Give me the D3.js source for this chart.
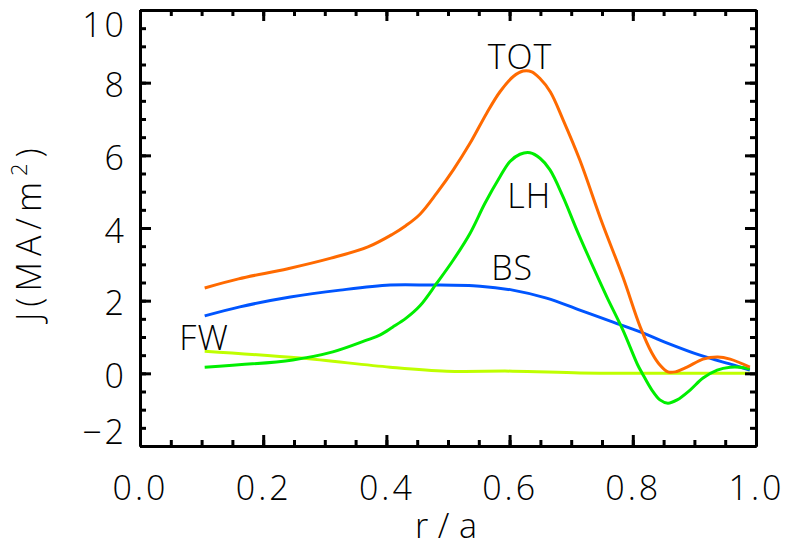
<!DOCTYPE html>
<html>
<head>
<meta charset="utf-8">
<script src="https://cdn.jsdelivr.net/npm/d3@7"></script>
<style>
  body { margin: 0; background: #fff; }
  svg { display: block; }
  .lbl { font-family: "DejaVu Sans ExtraLight", "Open Sans", sans-serif; font-weight: 300; fill: #000; }
  .axis text { font-family: "DejaVu Sans ExtraLight", "Open Sans", sans-serif; font-weight: 300; font-size: 34px; fill: #000; }
  .axis path, .axis line { stroke: #000; stroke-width: 3; }
</style>
</head>
<body>
<svg id="chart"></svg>
<script>
// r/a positions and current densities
const totR = [0.105, 0.16, 0.24, 0.31, 0.37, 0.41, 0.432, 0.4545, 0.4817, 0.5086, 0.5357, 0.5628, 0.5844, 0.606, 0.622, 0.636, 0.649, 0.666, 0.687, 0.714, 0.75, 0.784, 0.812, 0.831, 0.844, 0.857, 0.869, 0.888, 0.914, 0.938, 0.958, 0.99]
const totJ = [2.35, 2.6, 2.88, 3.17, 3.48, 3.83, 4.07, 4.38, 4.96, 5.6, 6.33, 7.16, 7.75, 8.17, 8.32, 8.3, 8.12, 7.75, 6.97, 5.87, 4.15, 2.65, 1.28, 0.56, 0.23, 0.04, 0.04, 0.17, 0.39, 0.45, 0.39, 0.17]

const lhR = [0.105, 0.248, 0.313, 0.369, 0.39, 0.41, 0.432, 0.4545, 0.4817, 0.5086, 0.5357, 0.56, 0.5844, 0.6006, 0.6169, 0.6331, 0.6494, 0.6656, 0.687, 0.709, 0.735, 0.758, 0.784, 0.808, 0.815, 0.831, 0.844, 0.857, 0.872, 0.893, 0.914, 0.937, 0.958, 0.974, 0.99]
const lhJ = [0.17, 0.37, 0.59, 0.92, 1.06, 1.27, 1.52, 1.86, 2.48, 3.12, 3.85, 4.68, 5.41, 5.83, 6.03, 6.07, 5.92, 5.6, 4.85, 3.95, 2.95, 2.1, 1.19, 0.23, 0.01, -0.46, -0.73, -0.82, -0.73, -0.46, -0.13, 0.09, 0.17, 0.17, 0.12]

const bsR = [0.105, 0.162, 0.244, 0.325, 0.406, 0.47, 0.552, 0.605, 0.66, 0.714, 0.768, 0.812, 0.855, 0.909, 0.963, 0.99]
const bsJ = [1.58, 1.83, 2.1, 2.29, 2.43, 2.43, 2.4, 2.29, 2.07, 1.74, 1.41, 1.14, 0.84, 0.5, 0.23, 0.09]

const fwR = [0.105, 0.26, 0.406, 0.498, 0.605, 0.714, 0.812, 0.99]
const fwJ = [0.61, 0.42, 0.17, 0.06, 0.06, 0.01, 0.0, 0.0]

const xTicks = [0.0, 0.2, 0.4, 0.6, 0.8, 1.0]
const yTicks = [-2, 0, 2, 4, 6, 8, 10]

const series = [
    { name: "FW", r: fwR, j: fwJ, color: "#bfff00", lx: 0.104, ly: 0.64 },
    { name: "BS", r: bsR, j: bsJ, color: "#0055ff", lx: 0.604, ly: 2.57 },
    { name: "LH", r: lhR, j: lhJ, color: "#00ee00", lx: 0.632, ly: 4.55 },
    { name: "TOT", r: totR, j: totJ, color: "#ff6a00", lx: 0.617, ly: 8.37 }
]

const w = 788
const h = 559
const margin = { top: 10, right: 32, bottom: 113, left: 140 }
const width = w - margin.left - margin.right
const height = h - margin.top - margin.bottom

const x = d3.scaleLinear().domain([0, 1]).range([0, width])
const y = d3.scaleLinear().domain([-2, 10]).range([height, 0])

const svg = d3.select("#chart").attr("width", w).attr("height", h)
const chart = svg.append("g").attr("transform", `translate(${margin.left}, ${margin.top})`)

// curves
const lineGen = d3.line()
    .x(d => x(d[0]))
    .y(d => y(d[1]))
    .curve(d3.curveCatmullRom.alpha(0.5))

series.forEach(s => {
    chart.append("path")
        .datum(s.r.map((r, i) => [r, s.j[i]]))
        .attr("fill", "none")
        .attr("stroke", s.color)
        .attr("stroke-width", 3)
        .attr("stroke-linejoin", "round")
        .attr("d", lineGen)
})

// axes: major and minor ticks on all four sides, pointing inward
const minorX = d3.range(0, 1.0001, 0.05)
const minorY = d3.range(-2, 10.0001, 0.5)

function addAxis(axisFn, scale, ticks, size, transform, fmt) {
    const g = chart.append("g").attr("class", "axis").attr("transform", transform)
    g.call(axisFn(scale).tickValues(ticks).tickSize(-size).tickSizeOuter(0).tickFormat(fmt || ""))
    return g
}

addAxis(d3.axisBottom, x, minorX, 6, `translate(0, ${height})`)
addAxis(d3.axisTop, x, minorX, 6, "translate(0, 0)")
addAxis(d3.axisLeft, y, minorY, 6, "translate(0, 0)")
addAxis(d3.axisRight, y, minorY, 6, `translate(${width}, 0)`)

const xAx = addAxis(d3.axisBottom, x, xTicks, 11, `translate(0, ${height})`, d3.format(".1f"))
xAx.call(a => a.selectAll("text").attr("y", 30).attr("letter-spacing", 3))
addAxis(d3.axisTop, x, xTicks, 11, "translate(0, 0)")
const yAx = addAxis(d3.axisLeft, y, yTicks, 11, "translate(0, 0)", d3.format("d"))
yAx.call(a => a.selectAll("text")
    .attr("x", -13)
    .attr("letter-spacing", 3)
    .attr("dy", d => d === 10 ? "0.78em" : d === -2 ? "-0.08em" : "0.42em"))
addAxis(d3.axisRight, y, yTicks, 11, `translate(${width}, 0)`)

// axis titles
chart.append("text")
    .attr("class", "lbl")
    .attr("x", width / 2 - 2)
    .attr("y", height + 92)
    .attr("text-anchor", "middle")
    .attr("font-size", 34)
    .attr("textLength", 62)
    .attr("lengthAdjust", "spacing")
    .text("r/a")

const yTitle = chart.append("text")
    .attr("class", "lbl")
    .attr("transform", `translate(${41 - margin.left}, ${y(3.9)}) rotate(-90)`)
    .attr("text-anchor", "middle")
    .attr("font-size", 34)
    .attr("letter-spacing", 6)
yTitle.append("tspan").text("J(MA/m")
yTitle.append("tspan").attr("font-size", 22).attr("dy", -14).text("2")
yTitle.append("tspan").attr("dy", 14).text(")")

// curve labels
chart.selectAll(".curve-label")
    .data(series)
    .enter()
    .append("text")
    .attr("class", "lbl curve-label")
    .attr("x", d => x(d.lx))
    .attr("y", d => y(d.ly))
    .attr("text-anchor", "middle")
    .attr("font-size", 34)
    .attr("letter-spacing", 1)
    .text(d => d.name)
</script>
</body>
</html>
